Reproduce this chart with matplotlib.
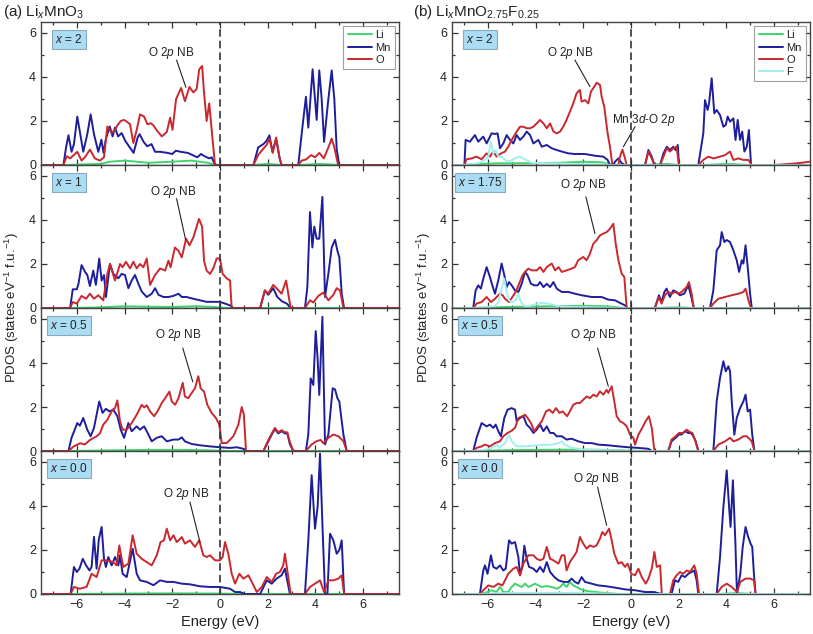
import matplotlib
matplotlib.use('Agg')
import matplotlib.pyplot as plt
from matplotlib.ticker import MultipleLocator

plt.rcParams['font.family'] = ['Liberation Sans', 'DejaVu Sans']
plt.rcParams['mathtext.fontset'] = 'custom'
plt.rcParams['mathtext.rm'] = 'Liberation Sans'
plt.rcParams['mathtext.it'] = 'Liberation Sans:italic'
plt.rcParams['mathtext.bf'] = 'Liberation Sans:bold'

# ---------------- data: (energy eV, PDOS) ----------------
A1_MN = [(-7.5,0),(-6.56,0),(-6.45,0.8),(-6.35,1.35),(-6.22,0.6),(-6.12,0.95),(-5.98,2.2),(-5.87,1.5),(-5.73,0.6),(-5.56,1.4),(-5.42,2.3),(-5.28,1.4),(-5.1,0.6),(-4.97,1.15),(-4.88,0.55),(-4.78,1.2),(-4.62,1.75),(-4.5,1.3),(-4.4,1.7),(-4.27,1.3),(-4.12,1.45),(-3.97,1.1),(-3.78,0.8),(-3.62,0.55),(-3.45,1.25),(-3.37,1.4),(-3.2,1.05),(-3.05,0.85),(-2.87,0.95),(-2.72,0.6),(-2.5,0.6),(-2.2,0.55),(-2.0,0.5),(-1.85,0.65),(-1.65,0.6),(-1.35,0.55),(-1.15,0.45),(-0.95,0.35),(-0.8,0.5),(-0.65,0.4),(-0.45,0.3),(-0.35,0.35),(-0.25,0.1),(-0.15,0),(1.4,0),(1.6,0.8),(1.82,0.95),(1.95,1.1),(2.07,1.35),(2.2,0.6),(2.35,1.2),(2.5,0.3),(2.58,0),(3.28,0),(3.42,1.4),(3.6,3.1),(3.7,1.7),(3.88,4.35),(3.98,3.0),(4.05,2.05),(4.16,4.3),(4.26,3.0),(4.36,1.05),(4.54,3.0),(4.68,4.3),(4.79,3.0),(4.89,0.7),(5.0,0),(7.5,0)]
A1_O = [(-7.5,0),(-6.56,0),(-6.42,0.4),(-6.28,0.3),(-5.98,0.6),(-5.8,0.2),(-5.66,0.35),(-5.45,0.7),(-5.24,0.3),(-5.03,0.2),(-4.86,0.35),(-4.72,1.75),(-4.54,1.45),(-4.4,1.6),(-4.3,1.8),(-4.16,2.0),(-4.02,2.05),(-3.88,1.95),(-3.77,1.85),(-3.63,1.0),(-3.49,1.6),(-3.35,2.3),(-3.18,2.2),(-3.04,1.85),(-2.9,1.9),(-2.79,1.8),(-2.63,1.55),(-2.44,1.3),(-2.23,1.5),(-2.09,2.15),(-1.99,1.6),(-1.84,3.0),(-1.63,3.5),(-1.47,2.9),(-1.28,3.55),(-1.12,3.3),(-0.98,3.45),(-0.87,4.35),(-0.75,4.5),(-0.67,3.3),(-0.56,2.0),(-0.45,2.8),(-0.34,1.5),(-0.21,0),(1.4,0),(1.6,0.45),(1.82,0.75),(1.95,0.9),(2.07,1.2),(2.21,0.55),(2.35,1.25),(2.5,0.3),(2.58,0),(3.28,0),(3.42,0.2),(3.6,0.25),(3.82,0.45),(3.98,0.35),(4.16,0.55),(4.35,0.3),(4.54,0.8),(4.68,1.2),(4.79,0.8),(4.95,0),(7.5,0)]
A1_LI = [(-7.5,0),(-6.5,0),(-5.0,0.05),(-4.6,0.15),(-4.0,0.2),(-3.5,0.15),(-3.0,0.1),(-2.0,0.15),(-1.2,0.2),(-0.5,0.1),(-0.2,0),(1.4,0),(2.0,0.05),(2.6,0),(3.3,0),(4.2,0.05),(5.0,0),(7.5,0)]

A2_MN = [(-7.5,0),(-6.28,0),(-6.17,0.85),(-6.0,0.85),(-5.93,1.1),(-5.8,1.95),(-5.66,1.65),(-5.56,1.5),(-5.45,1.0),(-5.31,1.7),(-5.2,1.05),(-5.06,2.25),(-4.96,1.25),(-4.86,1.5),(-4.78,0.5),(-4.61,2.0),(-4.47,1.55),(-4.26,1.35),(-4.12,1.55),(-3.98,1.5),(-3.84,0.9),(-3.7,1.25),(-3.56,1.5),(-3.42,1.1),(-3.28,0.75),(-3.07,0.5),(-2.86,0.65),(-2.72,0.9),(-2.58,0.6),(-2.37,0.5),(-2.16,0.5),(-1.95,0.55),(-1.74,0.65),(-1.6,0.5),(-1.4,0.5),(-1.12,0.42),(-0.84,0.35),(-0.56,0.28),(-0.28,0.28),(0.0,0.28),(0.21,0.2),(0.42,0.12),(0.56,0),(1.68,0),(1.88,0.8),(2.02,0.6),(2.23,0.9),(2.4,0.5),(2.6,0.3),(2.8,0.2),(2.96,0),(3.56,0),(3.66,0.95),(3.77,4.36),(3.87,2.75),(3.95,3.7),(4.05,3.15),(4.16,3.15),(4.29,5.05),(4.4,0.5),(4.54,1.55),(4.68,2.75),(4.82,3.1),(4.92,2.6),(5.0,2.3),(5.1,0.65),(5.2,0),(7.5,0)]
A2_O = [(-7.5,0),(-6.28,0),(-6.17,0.27),(-6.0,0.2),(-5.8,0.55),(-5.61,0.42),(-5.45,0.65),(-5.28,0.42),(-5.1,0.58),(-4.89,0.35),(-4.72,1.55),(-4.61,2.0),(-4.4,1.25),(-4.19,2.0),(-4.08,1.85),(-3.94,2.1),(-3.77,1.8),(-3.63,2.1),(-3.49,1.8),(-3.35,2.0),(-3.21,1.85),(-3.07,2.25),(-2.93,1.05),(-2.72,1.5),(-2.51,1.8),(-2.3,1.7),(-2.16,2.15),(-2.07,1.85),(-1.89,2.75),(-1.74,2.6),(-1.6,2.3),(-1.42,3.15),(-1.28,2.85),(-1.12,3.2),(-0.88,4.05),(-0.75,3.7),(-0.67,2.15),(-0.56,1.7),(-0.42,1.55),(-0.28,1.8),(-0.14,2.25),(0.0,2.25),(0.11,1.55),(0.28,1.35),(0.42,1.25),(0.49,0),(1.68,0),(1.88,0.8),(2.02,0.65),(2.23,1.05),(2.37,0.9),(2.58,0.65),(2.77,1.25),(2.86,0.65),(2.96,0),(3.56,0),(3.77,0.35),(3.91,0.25),(4.12,0.55),(4.33,0.7),(4.54,0.35),(4.75,0.6),(4.89,0.9),(5.03,0.8),(5.17,0),(7.5,0)]
A2_LI = [(-7.5,0),(-6.3,0),(-5.0,0.03),(-4.0,0.08),(-3.0,0.06),(-2.0,0.05),(-1.0,0.08),(-0.3,0.05),(0.3,0),(7.5,0)]

A3_MN = [(-7.5,0),(-6.35,0),(-6.22,0.6),(-5.98,1.27),(-5.87,1.15),(-5.73,1.5),(-5.56,0.97),(-5.42,0.67),(-5.28,1.05),(-5.17,1.65),(-5.06,2.25),(-4.92,1.73),(-4.78,1.92),(-4.64,1.8),(-4.47,1.88),(-4.3,1.58),(-4.16,0.97),(-4.02,0.6),(-3.84,1.27),(-3.7,0.9),(-3.49,1.12),(-3.35,0.97),(-3.18,1.12),(-3.07,0.9),(-2.86,0.44),(-2.65,0.6),(-2.44,0.67),(-2.23,0.44),(-1.95,0.52),(-1.74,0.52),(-1.6,0.62),(-1.47,0.44),(-1.19,0.32),(-0.84,0.26),(-0.42,0.21),(0.0,0.17),(0.42,0.14),(0.7,0.17),(0.98,0.1),(1.09,0),(1.82,0),(1.96,0.3),(2.17,0.75),(2.3,1.0),(2.44,0.8),(2.58,0.9),(2.72,0.8),(2.82,0.8),(2.93,0.3),(3.07,0),(3.6,0),(3.7,0.75),(3.8,3.3),(3.91,3.0),(4.01,5.45),(4.09,4.2),(4.16,2.55),(4.29,6.1),(4.4,0.3),(4.54,0.75),(4.72,2.85),(4.82,2.8),(4.92,2.4),(5.0,2.25),(5.17,0.75),(5.31,0),(7.5,0)]
A3_O = [(-7.5,0),(-6.35,0),(-6.14,0.2),(-5.87,0.35),(-5.66,0.3),(-5.45,0.5),(-5.17,0.67),(-5.03,0.8),(-4.89,1.2),(-4.72,1.42),(-4.5,1.88),(-4.4,1.95),(-4.3,2.3),(-4.19,1.35),(-4.08,0.97),(-3.91,0.97),(-3.7,1.27),(-3.49,1.65),(-3.28,2.1),(-3.18,1.98),(-3.07,2.08),(-2.93,1.8),(-2.76,1.58),(-2.62,1.8),(-2.44,2.18),(-2.3,2.4),(-2.12,2.7),(-2.02,2.25),(-1.88,2.1),(-1.74,2.4),(-1.56,3.1),(-1.47,2.48),(-1.33,2.4),(-1.19,2.63),(-1.05,2.85),(-0.91,3.4),(-0.81,2.85),(-0.67,2.7),(-0.53,2.1),(-0.35,1.73),(-0.17,1.5),(-0.03,1.2),(0.07,0.36),(0.28,0.36),(0.56,0.67),(0.77,1.2),(0.91,2.0),(1.0,1.65),(1.09,0),(1.82,0),(1.96,0.35),(2.17,0.8),(2.3,1.05),(2.44,0.85),(2.58,0.95),(2.72,0.85),(2.82,0.85),(2.93,0.4),(3.07,0),(3.6,0),(3.84,0.3),(4.05,0.45),(4.22,0.5),(4.33,0.35),(4.54,0.6),(4.75,0.75),(4.96,0.67),(5.17,0.45),(5.31,0),(7.5,0)]
A3_LI = [(-7.5,0),(-6.3,0),(-4.5,0.03),(-3.0,0.05),(-1.5,0.05),(-0.5,0.03),(0.5,0),(7.5,0)]

A4_MN = [(-7.5,0),(-6.26,0),(-6.12,1.23),(-6.0,1.0),(-5.89,1.15),(-5.75,1.6),(-5.61,1.3),(-5.47,1.07),(-5.38,1.23),(-5.28,2.6),(-5.17,1.15),(-5.08,2.47),(-4.96,3.05),(-4.86,1.6),(-4.78,1.23),(-4.68,1.68),(-4.54,1.3),(-4.4,1.68),(-4.26,1.3),(-4.19,1.76),(-4.08,0.92),(-3.91,0.77),(-3.66,2.06),(-3.49,0.92),(-3.35,0.62),(-3.07,0.55),(-2.79,0.4),(-2.51,0.62),(-2.23,0.55),(-1.95,0.55),(-1.6,0.47),(-1.26,0.44),(-0.84,0.35),(-0.42,0.32),(0.0,0.32),(0.42,0.24),(0.63,0.09),(0.84,0.09),(1.05,0),(1.68,0),(1.96,0.62),(2.17,0.47),(2.37,0.7),(2.58,0.85),(2.72,1.15),(2.79,0.77),(2.93,0),(3.56,0),(3.7,2.44),(3.84,5.4),(3.98,2.97),(4.09,3.95),(4.19,6.38),(4.29,3.2),(4.4,0),(4.5,0),(4.61,2.74),(4.75,2.44),(4.89,1.83),(5.0,2.0),(5.1,2.44),(5.2,0),(7.5,0)]
A4_O = [(-7.5,0),(-6.26,0),(-6.12,0.32),(-5.87,0.24),(-5.59,0.32),(-5.38,0.92),(-5.17,0.77),(-4.96,1.53),(-4.75,1.53),(-4.47,1.45),(-4.33,1.3),(-4.22,2.21),(-4.12,1.6),(-4.05,1.23),(-3.84,1.38),(-3.66,2.67),(-3.49,1.83),(-3.28,1.6),(-3.07,1.45),(-2.86,1.3),(-2.65,1.76),(-2.49,2.36),(-2.35,2.44),(-2.23,2.97),(-2.09,2.44),(-1.95,2.67),(-1.81,2.36),(-1.6,2.59),(-1.47,2.29),(-1.26,2.44),(-1.05,2.14),(-0.87,2.44),(-0.7,1.76),(-0.56,1.68),(-0.42,1.76),(-0.21,1.53),(0.0,1.53),(0.11,1.68),(0.21,2.36),(0.35,1.83),(0.49,0.92),(0.63,0.47),(0.81,0.92),(0.98,0.7),(1.19,0.85),(1.37,0.47),(1.54,0.09),(1.75,0.32),(1.96,0.77),(2.17,0.55),(2.35,0.92),(2.51,1.0),(2.65,1.3),(2.72,1.83),(2.82,1.07),(2.96,0),(3.56,0),(3.77,0.32),(3.98,0.47),(4.19,0.62),(4.36,0.09),(4.54,0.62),(4.75,0.62),(4.96,0.7),(5.1,0.85),(5.2,0),(7.5,0)]
A4_LI = [(-7.5,0),(-6.3,0),(-4.0,0.02),(-2.0,0.03),(0.0,0.02),(1.0,0),(7.5,0)]

B1_MN = [(-7.5,0),(-6.98,0),(-6.93,1.14),(-6.75,1.06),(-6.54,1.36),(-6.4,1.06),(-6.19,1.29),(-6.05,0.98),(-5.84,1.44),(-5.7,1.41),(-5.59,1.44),(-5.49,0.76),(-5.35,0.98),(-5.21,1.36),(-5.07,1.14),(-4.93,0.98),(-4.79,1.36),(-4.65,1.14),(-4.51,1.29),(-4.37,1.52),(-4.23,1.36),(-4.09,0.98),(-3.88,1.14),(-3.74,0.83),(-3.53,0.91),(-3.32,0.76),(-3.11,0.68),(-2.9,0.61),(-2.63,0.53),(-2.35,0.5),(-1.93,0.5),(-1.51,0.42),(-1.16,0.38),(-0.98,0.23),(-0.88,0),(-0.74,0),(-0.67,0.15),(-0.53,0.3),(-0.39,0.08),(-0.25,0),(0.59,0),(0.73,0.68),(0.87,0.38),(0.98,0),(1.22,0),(1.36,0.53),(1.5,0.83),(1.63,0.68),(1.77,0.83),(1.87,0.68),(1.96,0.91),(2.01,0),(2.82,0),(3.03,1.44),(3.1,2.95),(3.21,2.5),(3.27,2.8),(3.38,3.94),(3.49,2.35),(3.59,2.5),(3.73,2.27),(3.87,1.74),(3.97,1.82),(4.05,2.2),(4.15,1.97),(4.29,2.12),(4.38,1.14),(4.47,2.05),(4.57,1.14),(4.66,1.52),(4.75,0.61),(4.85,0.83),(4.94,1.59),(5.03,0),(7.5,0)]
B1_O = [(-7.5,0),(-6.98,0),(-6.89,0.26),(-6.68,0.3),(-6.47,0.38),(-6.26,0.26),(-6.05,0.53),(-5.91,0.38),(-5.77,0.61),(-5.63,0.38),(-5.49,0.5),(-5.28,0.61),(-5.14,0.83),(-5.0,1.14),(-4.79,1.52),(-4.65,1.74),(-4.51,1.74),(-4.37,1.67),(-4.23,1.67),(-4.09,1.74),(-3.95,1.89),(-3.81,2.05),(-3.67,1.89),(-3.53,1.67),(-3.39,1.89),(-3.25,1.52),(-3.11,1.44),(-2.97,1.52),(-2.84,1.74),(-2.7,2.05),(-2.56,2.42),(-2.42,2.8),(-2.28,3.26),(-2.14,3.41),(-2.07,2.88),(-1.93,2.95),(-1.79,2.8),(-1.68,3.33),(-1.54,3.56),(-1.44,3.74),(-1.3,3.64),(-1.23,3.11),(-1.12,2.65),(-0.98,1.44),(-0.88,0.83),(-0.78,0),(-0.53,0),(-0.46,0.38),(-0.36,0.7),(-0.25,0.3),(-0.18,0),(0.59,0),(0.73,0.61),(0.87,0.3),(0.98,0),(1.22,0),(1.36,0.38),(1.5,0.76),(1.63,0.61),(1.77,0.76),(1.91,0.83),(2.01,0),(2.82,0),(3.03,0.23),(3.24,0.38),(3.45,0.3),(3.73,0.38),(3.94,0.45),(4.15,0.61),(4.29,0.23),(4.5,0.3),(4.71,0.23),(4.92,0.23),(5.06,0),(6.0,0),(7.0,0.08),(7.5,0.15)]
B1_LI = [(-7.5,0),(-6.98,0),(-6.5,0.05),(-5.5,0.08),(-4.0,0.08),(-3.0,0.1),(-2.0,0.15),(-1.2,0.12),(-0.8,0),(0.6,0),(1.5,0.05),(2.0,0),(3.0,0),(4.0,0.05),(5.0,0),(7.5,0)]
B1_F = [(-7.5,0),(-6.98,0),(-6.4,0.08),(-6.12,0.23),(-5.98,0.38),(-5.88,1.06),(-5.77,0.53),(-5.67,0.68),(-5.56,0.38),(-5.42,0.38),(-5.28,0.23),(-5.14,0.15),(-4.86,0.3),(-4.65,0.38),(-4.44,0.26),(-4.16,0.1),(-3.6,0.08),(-2.49,0.05),(-1.1,0.03),(-0.8,0),(7.5,0)]

B2_MN = [(-7.5,0),(-6.61,0),(-6.51,0.8),(-6.4,1.03),(-6.29,0.88),(-6.19,1.33),(-6.05,1.86),(-5.91,1.41),(-5.81,1.03),(-5.7,0.65),(-5.56,1.26),(-5.42,2.02),(-5.31,1.5),(-5.21,0.95),(-5.11,1.18),(-5.0,1.03),(-4.86,0.8),(-4.72,0.73),(-4.58,1.1),(-4.44,1.64),(-4.33,1.48),(-4.19,1.1),(-4.05,1.03),(-3.91,1.03),(-3.81,1.18),(-3.67,0.95),(-3.53,1.1),(-3.39,0.95),(-3.25,1.18),(-3.11,0.88),(-2.9,0.73),(-2.63,0.73),(-2.35,0.65),(-2.07,0.58),(-1.65,0.5),(-1.23,0.5),(-0.95,0.38),(-0.67,0.35),(-0.46,0.23),(-0.25,0.12),(-0.14,0),(1.0,0),(1.17,0.58),(1.28,0.27),(1.4,0.73),(1.49,0.88),(1.63,0.5),(1.77,0.8),(1.91,0.73),(2.05,0.58),(2.23,0.65),(2.4,1.03),(2.51,0.58),(2.63,0),(3.31,0),(3.45,0.8),(3.59,2.62),(3.73,2.85),(3.8,3.45),(3.91,3.0),(4.01,3.09),(4.15,3.0),(4.29,2.62),(4.43,2.17),(4.53,1.64),(4.64,2.17),(4.71,2.02),(4.8,2.85),(4.89,1.86),(4.99,0.65),(5.06,0),(7.5,0)]
B2_O = [(-7.5,0),(-6.61,0),(-6.47,0.2),(-6.26,0.27),(-6.05,0.5),(-5.87,0.27),(-5.7,0.42),(-5.49,0.65),(-5.38,0.58),(-5.28,0.42),(-5.11,0.27),(-4.97,0.5),(-4.83,0.73),(-4.69,1.1),(-4.55,1.48),(-4.44,1.64),(-4.3,1.79),(-4.16,1.71),(-3.95,1.71),(-3.81,1.86),(-3.67,1.64),(-3.53,1.86),(-3.32,2.02),(-3.18,1.71),(-3.04,1.86),(-2.9,1.64),(-2.7,1.71),(-2.49,1.79),(-2.35,1.86),(-2.21,2.17),(-2.0,2.32),(-1.86,2.17),(-1.72,2.47),(-1.58,2.92),(-1.44,3.08),(-1.3,3.3),(-1.16,3.38),(-1.02,3.45),(-0.88,3.6),(-0.74,3.83),(-0.64,2.92),(-0.53,2.17),(-0.39,1.56),(-0.28,1.41),(-0.18,0),(1.0,0),(1.17,0.5),(1.28,0.2),(1.42,0.58),(1.56,0.73),(1.7,0.65),(1.84,0.73),(1.98,0.65),(2.12,0.73),(2.33,0.95),(2.43,1.18),(2.54,0.65),(2.63,0),(3.31,0),(3.45,0.2),(3.66,0.42),(3.94,0.5),(4.22,0.58),(4.5,0.65),(4.71,0.73),(4.8,0.88),(4.92,0.35),(5.03,0),(7.5,0)]
B2_LI = [(-7.5,0),(-6.6,0),(-5.0,0.05),(-3.5,0.08),(-2.0,0.1),(-1.0,0.08),(-0.3,0),(1.0,0),(2.0,0.03),(2.6,0),(7.5,0)]
B2_F = [(-7.5,0),(-6.61,0),(-5.98,0.05),(-5.7,0.08),(-5.56,0.27),(-5.42,0.88),(-5.31,1.33),(-5.21,0.73),(-5.11,0.35),(-5.0,0.27),(-4.83,0.35),(-4.72,0.65),(-4.61,0.27),(-4.44,0.05),(-4.16,0.12),(-3.74,0.23),(-3.46,0.2),(-3.04,0.08),(-2.49,0.05),(-1.1,0.02),(-0.18,0),(7.5,0)]

B3_MN = [(-7.5,0),(-6.61,0),(-6.47,0.6),(-6.26,1.27),(-6.05,1.12),(-5.91,1.2),(-5.77,1.05),(-5.67,1.2),(-5.56,0.9),(-5.45,0.67),(-5.31,1.5),(-5.17,1.88),(-5.0,1.95),(-4.86,1.88),(-4.79,1.35),(-4.65,1.5),(-4.51,1.58),(-4.37,1.2),(-4.23,1.05),(-4.09,0.82),(-3.95,0.97),(-3.81,1.2),(-3.67,0.9),(-3.53,1.12),(-3.39,0.82),(-3.25,0.82),(-3.11,0.67),(-2.9,0.67),(-2.7,0.52),(-2.49,0.56),(-2.21,0.44),(-1.93,0.36),(-1.65,0.36),(-1.37,0.29),(-0.95,0.26),(-0.53,0.21),(-0.11,0.17),(0.31,0.14),(0.73,0.1),(0.87,0),(1.56,0),(1.7,0.44),(1.87,0.6),(2.01,0.75),(2.12,0.75),(2.26,0.9),(2.4,0.82),(2.51,0.82),(2.61,0.67),(2.71,0.44),(2.82,0),(3.45,0),(3.59,2.26),(3.73,3.32),(3.87,4.08),(3.97,3.62),(4.08,3.85),(4.15,3.62),(4.22,2.26),(4.33,0.74),(4.43,1.5),(4.57,1.95),(4.71,2.26),(4.8,2.56),(4.89,1.8),(4.99,1.88),(5.08,0.74),(5.17,0),(7.5,0)]
B3_O = [(-7.5,0),(-6.61,0),(-6.47,0.14),(-6.26,0.21),(-6.12,0.29),(-5.91,0.21),(-5.7,0.36),(-5.49,0.44),(-5.35,0.67),(-5.17,0.82),(-5.03,0.9),(-4.86,1.05),(-4.72,1.5),(-4.55,1.58),(-4.44,1.65),(-4.33,1.5),(-4.19,1.27),(-4.05,0.9),(-3.91,1.12),(-3.74,1.35),(-3.56,1.8),(-3.42,1.88),(-3.28,1.73),(-3.14,1.95),(-3.0,1.73),(-2.86,1.8),(-2.68,1.58),(-2.56,1.8),(-2.42,2.1),(-2.28,2.18),(-2.14,2.18),(-2.0,2.33),(-1.86,2.48),(-1.72,2.4),(-1.58,2.56),(-1.44,2.48),(-1.3,2.71),(-1.16,2.56),(-1.02,2.78),(-0.95,2.64),(-0.81,2.94),(-0.7,2.26),(-0.6,1.58),(-0.46,1.35),(-0.32,1.27),(-0.18,1.12),(-0.04,0.74),(0.1,0.6),(0.17,0.29),(0.31,0.74),(0.47,1.05),(0.61,1.35),(0.75,1.58),(0.87,1.05),(0.98,0),(1.56,0),(1.7,0.52),(1.87,0.67),(2.01,0.82),(2.19,0.82),(2.33,0.97),(2.47,0.86),(2.57,0.82),(2.68,0.52),(2.82,0),(3.45,0),(3.66,0.29),(3.94,0.44),(4.15,0.6),(4.29,0.44),(4.5,0.52),(4.71,0.67),(4.85,0.67),(5.06,0.44),(5.17,0),(7.5,0)]
B3_LI = [(-7.5,0),(-6.6,0),(-5.0,0.04),(-3.0,0.06),(-1.5,0.06),(-0.5,0.03),(0.5,0),(7.5,0)]
B3_F = [(-7.5,0),(-6.61,0),(-6.12,0.06),(-5.84,0.14),(-5.63,0.29),(-5.53,0.14),(-5.28,0.36),(-5.11,0.74),(-5.0,0.44),(-4.79,0.21),(-4.44,0.21),(-3.88,0.26),(-3.32,0.29),(-3.04,0.36),(-2.9,0.44),(-2.77,0.29),(-2.49,0.14),(-1.93,0.06),(-0.81,0.03),(0.03,0),(7.5,0)]

B4_MN = [(-7.5,0),(-6.33,0),(-6.19,1.07),(-6.12,1.3),(-6.01,0.92),(-5.87,1.76),(-5.77,1.23),(-5.63,1.15),(-5.49,1.3),(-5.35,1.07),(-5.25,1.15),(-5.11,2.44),(-5.0,2.29),(-4.86,2.36),(-4.72,1.68),(-4.65,0.85),(-4.55,1.3),(-4.47,2.2),(-4.37,1.6),(-4.27,1.23),(-4.09,1.15),(-3.95,1.0),(-3.81,1.23),(-3.67,1.0),(-3.53,1.45),(-3.39,1.0),(-3.21,0.77),(-3.04,0.62),(-2.83,0.55),(-2.63,0.55),(-2.49,0.7),(-2.35,0.55),(-2.21,0.47),(-2.07,0.77),(-1.93,0.55),(-1.65,0.47),(-1.37,0.39),(-1.09,0.36),(-0.67,0.29),(-0.25,0.21),(0.17,0.17),(0.59,0.09),(0.94,0.09),(1.29,0),(1.7,0),(1.84,0.62),(1.98,0.55),(2.12,0.85),(2.26,0.77),(2.4,0.92),(2.54,1.0),(2.65,1.07),(2.75,0.62),(2.82,0),(3.59,0),(3.73,1.68),(3.87,3.95),(4.01,5.62),(4.11,3.95),(4.17,3.05),(4.27,5.17),(4.37,2.44),(4.44,0),(4.58,0.92),(4.68,2.14),(4.8,3.05),(4.91,2.59),(5.01,2.29),(5.08,2.14),(5.15,0.92),(5.22,0),(7.5,0)]
B4_O = [(-7.5,0),(-6.33,0),(-6.19,0.17),(-5.98,0.39),(-5.77,0.32),(-5.56,0.47),(-5.39,0.39),(-5.28,0.62),(-5.14,0.92),(-4.93,1.15),(-4.79,1.23),(-4.65,0.85),(-4.51,1.38),(-4.3,1.76),(-4.09,1.76),(-3.95,1.6),(-3.81,1.53),(-3.67,1.6),(-3.53,2.14),(-3.39,1.6),(-3.25,1.53),(-3.04,1.38),(-2.9,1.76),(-2.79,1.76),(-2.7,1.07),(-2.56,1.45),(-2.42,1.68),(-2.28,1.91),(-2.14,2.59),(-2.0,2.29),(-1.86,2.06),(-1.72,2.21),(-1.58,2.14),(-1.44,2.21),(-1.3,2.52),(-1.2,2.82),(-1.09,2.67),(-0.92,2.97),(-0.81,2.44),(-0.7,1.83),(-0.53,1.38),(-0.39,1.45),(-0.25,1.23),(-0.14,1.38),(0.01,0.92),(0.17,0.85),(0.31,1.15),(0.45,0.77),(0.62,0.47),(0.73,0.7),(0.87,1.15),(0.98,1.91),(1.08,1.23),(1.22,1.3),(1.29,0),(1.63,0),(1.77,0.62),(1.91,0.85),(2.05,1.0),(2.19,0.92),(2.33,1.07),(2.47,1.0),(2.65,1.3),(2.75,0.92),(2.85,0),(3.59,0),(3.8,0.32),(4.01,0.47),(4.22,0.32),(4.44,0.09),(4.58,0.55),(4.8,0.7),(5.01,0.7),(5.15,0.62),(5.22,0),(7.5,0)]
B4_LI = [(-7.5,0),(-6.33,0),(-6.12,0.05),(-5.84,0.17),(-5.63,0.09),(-5.49,0.32),(-5.35,0.09),(-5.14,0.09),(-5.0,0.32),(-4.86,0.47),(-4.72,0.39),(-4.58,0.32),(-4.44,0.47),(-4.3,0.32),(-4.16,0.39),(-4.02,0.47),(-3.88,0.39),(-3.74,0.32),(-3.53,0.36),(-3.32,0.32),(-3.11,0.24),(-2.97,0.32),(-2.83,0.47),(-2.7,0.32),(-2.56,0.55),(-2.42,0.39),(-2.28,0.32),(-2.07,0.2),(-1.86,0.14),(-1.51,0.09),(-1.09,0.05),(-0.53,0),(3.6,0),(4.4,0.04),(5.2,0),(7.5,0)]
B4_F = [(-7.5,0),(-6.3,0),(-5.0,0.05),(-3.0,0.05),(-1.0,0.02),(0.0,0),(7.5,0)]

X_LABELS_A = ['2', '1', '0.5', '0.0']
X_LABELS_B = ['2', '1.75', '0.5', '0.0']
TITLE_A = '(a) Li$_x$MnO$_3$'
TITLE_B = '(b) Li$_x$MnO$_{2.75}$F$_{0.25}$'

PANELS_A = [dict(Li=A1_LI, Mn=A1_MN, O=A1_O), dict(Li=A2_LI, Mn=A2_MN, O=A2_O),
            dict(Li=A3_LI, Mn=A3_MN, O=A3_O), dict(Li=A4_LI, Mn=A4_MN, O=A4_O)]
PANELS_B = [dict(Li=B1_LI, Mn=B1_MN, O=B1_O, F=B1_F), dict(Li=B2_LI, Mn=B2_MN, O=B2_O, F=B2_F),
            dict(Li=B3_LI, Mn=B3_MN, O=B3_O, F=B3_F), dict(Li=B4_LI, Mn=B4_MN, O=B4_O, F=B4_F)]

COLORS = {'Li': '#3fd46c', 'Mn': '#1e1e9c', 'O': '#c8282e', 'F': '#a3eeee'}
TXT = '#222222'

# annotation geometry: (text xy, line start, line end)
ANN_A = [((-2.03, 5.08), (-1.82, 4.77), (-1.43, 3.53)),
         ((-1.95, 5.27), (-1.82, 4.97), (-1.44, 3.10)),
         ((-1.75, 5.29), (-1.56, 4.68), (-1.14, 3.14)),
         ((-1.40, 4.56), (-1.26, 4.18), (-0.84, 2.36))]
ANN_B = [((-2.56, 5.08), (-2.35, 4.77), (-1.72, 3.56)),
         ((-2.00, 5.58), (-1.89, 5.05), (-1.51, 3.38)),
         ((-1.58, 5.29), (-1.40, 4.68), (-0.95, 2.94)),
         ((-1.44, 5.24), (-1.40, 4.86), (-1.02, 3.12))]

W, H = 813, 634
fig = plt.figure(figsize=(W / 100, H / 100), dpi=100)

TOPS = [22, 165, 308, 451]
PH = 143


def make_col(x0, panels, xlabels, anns):
    axes = []
    for i, pdata in enumerate(panels):
        ax = fig.add_axes([x0 / W, 1 - (TOPS[i] + PH) / H, 358 / W, PH / H])
        for key in ['Li', 'Mn', 'O', 'F']:
            if key in pdata:
                e, v = zip(*pdata[key])
                ax.plot(e, v, color=COLORS[key], lw=1.4, label=key,
                        solid_joinstyle='round', solid_capstyle='round')
        ax.axvline(0, color='#333333', lw=1.2, ls=(0, (4.5, 2.5)), zorder=5)
        ax.set_xlim(-7.5, 7.5)
        ax.set_ylim(0, 6.5)
        ax.xaxis.set_major_locator(MultipleLocator(2))
        ax.xaxis.set_minor_locator(MultipleLocator(1))
        ax.yaxis.set_major_locator(MultipleLocator(2))
        ax.yaxis.set_minor_locator(MultipleLocator(1))
        ax.tick_params(which='both', direction='in', top=True, right=True,
                       colors='#333333', labelcolor=TXT, labelsize=9, width=0.9)
        ax.tick_params(which='major', length=4)
        ax.tick_params(which='minor', length=2.2)
        for s in ax.spines.values():
            s.set_color('#444444')
            s.set_linewidth(1.0)
        if i < 3:
            ax.tick_params(labelbottom=False)
        else:
            ax.set_xlabel('Energy (eV)', fontsize=10.5, color=TXT, labelpad=3)
        ax.text(0.078, 0.875, '$x$ = ' + xlabels[i], transform=ax.transAxes,
                ha='center', va='center', fontsize=8.5, color=TXT, zorder=6,
                bbox=dict(boxstyle='square,pad=0.25', fc='#aadcf3', ec='#8aa8bb', lw=0.8))
        (tx, ty), p0, p1 = anns[i]
        ax.text(tx, ty, 'O 2$p$ NB', ha='center', va='center', fontsize=8.5, color=TXT)
        ax.annotate('', xy=p1, xytext=p0,
                    arrowprops=dict(arrowstyle='-', color=TXT, lw=0.8,
                                    shrinkA=0, shrinkB=0))
        if i == 0:
            leg = ax.legend(loc='upper right', fontsize=8, frameon=True,
                            fancybox=False, edgecolor='#888888',
                            handlelength=2.2, handletextpad=0.3,
                            labelspacing=0.2, borderpad=0.4,
                            borderaxespad=0.35)
            leg.get_frame().set_linewidth(0.8)
            for t in leg.get_texts():
                t.set_color(TXT)
        axes.append(ax)
    return axes


axA = make_col(41, PANELS_A, X_LABELS_A, ANN_A)
axB = make_col(452, PANELS_B, X_LABELS_B, ANN_B)

# extra annotation in panel (b) x = 2
axB[0].text(0.52, 2.05, 'Mn 3$d$-O 2$p$', ha='center', va='center', fontsize=8.5, color=TXT)
axB[0].annotate('', xy=(-0.32, 0.83), xytext=(0.17, 1.74),
                arrowprops=dict(arrowstyle='-', color=TXT, lw=0.8, shrinkA=0, shrinkB=0))

fig.text(3 / W, 1 - 12 / H, TITLE_A, ha='left', va='center', fontsize=11, color=TXT)
fig.text(413 / W, 1 - 12 / H, TITLE_B, ha='left', va='center', fontsize=11, color=TXT)

ylab = 'PDOS (states eV$^{-1}$ f.u.$^{-1}$)'
fig.text(12 / W, 1 - 308 / H, ylab, rotation=90, ha='center', va='center', fontsize=9.5, color=TXT)
fig.text(424 / W, 1 - 308 / H, ylab, rotation=90, ha='center', va='center', fontsize=9.5, color=TXT)

fig.savefig('out.png', dpi=100)
